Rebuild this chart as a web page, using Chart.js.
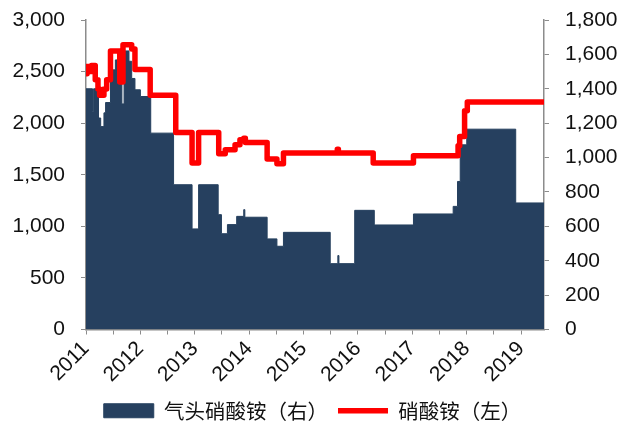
<!DOCTYPE html>
<html>
<head>
<meta charset="utf-8">
<script src="https://cdn.jsdelivr.net/npm/chart.js@4.4.1/dist/chart.umd.min.js"></script>
<style>
  html, body { margin: 0; padding: 0; background: #ffffff; }
  #wrap { width: 625px; height: 426px; position: relative; }
</style>
</head>
<body>
<div id="wrap"><canvas id="c" width="625" height="426"></canvas></div>
<script>
// Series 1: 气头硝酸铵（右） — step start dates (fractional year) and values (right axis)
const gasDates = [2011.00, 2011.12, 2011.14, 2011.23, 2011.27, 2011.33, 2011.36, 2011.45, 2011.54, 2011.66, 2011.70, 2011.79, 2011.84, 2011.90, 2012.00, 2012.19, 2012.61, 2012.95, 2013.07, 2013.43, 2013.49, 2013.60, 2013.77, 2013.90, 2013.92, 2014.33, 2014.51, 2014.63, 2015.49, 2015.63, 2015.65, 2015.94, 2016.30, 2017.02, 2017.75, 2017.83, 2017.88, 2018.00, 2018.90, 2019.42];
const gasValues = [1400, 1268, 1400, 1230, 1180, 1260, 1320, 1510, 1568, 1312, 1620, 1560, 1460, 1394, 1355, 1142, 842, 585, 842, 668, 557, 610, 658, 697, 653, 527, 484, 565, 383, 430, 383, 693, 608, 672, 716, 861, 1074, 1165, 736, 736];

// Series 2: 硝酸铵（左） — step start dates and values (left axis)
const anDates = [2011.00, 2011.02, 2011.08, 2011.10, 2011.17, 2011.22, 2011.25, 2011.33, 2011.38, 2011.45, 2011.62, 2011.68, 2011.84, 2011.90, 2012.18, 2012.65, 2012.95, 2013.07, 2013.44, 2013.56, 2013.74, 2013.83, 2013.90, 2013.93, 2014.33, 2014.51, 2014.63, 2015.62, 2015.64, 2016.28, 2017.02, 2017.84, 2017.87, 2017.96, 2018.01, 2019.42];
const anValues = [2480, 2550, 2500, 2560, 2420, 2330, 2270, 2330, 2420, 2700, 2400, 2760, 2720, 2520, 2270, 1910, 1613, 1910, 1703, 1742, 1790, 1839, 1855, 1813, 1652, 1606, 1710, 1748, 1710, 1613, 1684, 1780, 1870, 2120, 2206, 2206];

// Axis tick settings
const xMin = 2011, xMax = 2019.42;
const leftMax = 3000, leftStep = 500;
const rightMax = 1800, rightStep = 200;
const seriesNames = ['气头硝酸铵（右）', '硝酸铵（左）'];

const toPts = (xs, ys) => xs.map((x, i) => ({ x: x, y: ys[i] }));

const tickFont = { family: 'Liberation Sans', size: 21 };
const axisGray = '#8c8c8c';

function fixVertical(width) {
  return (s) => { s.width = width; s.paddingTop = 8; s.paddingBottom = 8; };
}

new Chart(document.getElementById('c'), {
  type: 'line',
  data: {
    datasets: [
      {
        label: seriesNames[0],
        data: toPts(gasDates, gasValues),
        yAxisID: 'yR',
        stepped: 'before',
        fill: 'origin',
        backgroundColor: '#26405f',
        borderColor: '#26405f',
        borderWidth: 1,
        pointRadius: 0,
        pointStyle: 'rect',
        order: 2
      },
      {
        label: seriesNames[1],
        data: toPts(anDates, anValues),
        yAxisID: 'yL',
        stepped: 'before',
        fill: false,
        borderColor: '#ff0000',
        backgroundColor: '#ff0000',
        borderWidth: 5.5,
        borderJoinStyle: 'round',
        borderCapStyle: 'round',
        pointRadius: 0,
        pointStyle: 'line',
        order: 1
      }
    ]
  },
  options: {
    responsive: false,
    animation: false,
    layout: { padding: { top: 20, left: 0, right: 0, bottom: -5 } },
    plugins: {
      tooltip: { enabled: false },
      legend: {
        position: 'bottom',
        labels: {
          usePointStyle: true,
          pointStyleWidth: 50,
          boxHeight: 14,
          padding: 10,
          color: '#111',
          font: { family: 'Noto Sans CJK SC', size: 20.5 },
          sort: (a, b) => a.datasetIndex - b.datasetIndex
        }
      }
    },
    scales: {
      x: {
        type: 'linear',
        min: xMin,
        max: xMax,
        afterFit: (s) => { s.height = 61; },
        border: { display: true, color: axisGray, width: 1.5 },
        grid: { drawOnChartArea: false, drawTicks: true, tickLength: 5, tickColor: axisGray },
        ticks: {
          stepSize: 0.5,
          includeBounds: false,
          autoSkip: false,
          minRotation: 45,
          maxRotation: 45,
          padding: 2,
          color: '#111',
          font: tickFont,
          callback: (v) => (Math.abs(v - Math.round(v)) < 1e-6 ? String(Math.round(v)) : '')
        }
      },
      yL: {
        position: 'left',
        min: 0,
        max: leftMax,
        afterFit: fixVertical(86),
        border: { display: true, color: axisGray, width: 1.5 },
        grid: { drawOnChartArea: false, drawTicks: true, tickLength: 5, tickColor: axisGray },
        ticks: { stepSize: leftStep, color: '#111', font: tickFont, padding: 16 }
      },
      yR: {
        position: 'right',
        min: 0,
        max: rightMax,
        afterFit: fixVertical(81),
        border: { display: true, color: axisGray, width: 1.5 },
        grid: { drawOnChartArea: false, drawTicks: true, tickLength: 5, tickColor: axisGray },
        ticks: { stepSize: rightStep, color: '#111', font: tickFont, padding: 16 }
      }
    }
  }
});
</script>
</body>
</html>
